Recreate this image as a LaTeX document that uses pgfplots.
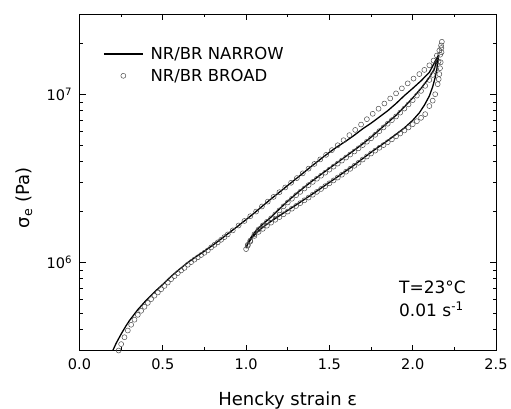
\documentclass[border=0pt]{standalone}
\usepackage{fontspec}
\setmainfont{DejaVu Sans}
\usepackage{pgfplots}
\pgfplotsset{compat=1.18}
\begin{document}
\begin{tikzpicture}
\useasboundingbox (0,0) rectangle (511pt,408pt);
\begin{axis}[
  at={(79.5pt,57.5pt)}, anchor=south west,
  scale only axis, width=416.5pt, height=336.5pt,
  xmin=0, xmax=2.5, ymin=3e5, ymax=3e7, ymode=log,
  xtick={0,0.5,1,1.5,2,2.5}, xticklabels={0.0,0.5,1.0,1.5,2.0,2.5},
  minor xtick={0.25,0.75,1.25,1.75,2.25},
  ytick={1e6,1e7}, yticklabels={10\textsuperscript{6},10\textsuperscript{7}},
  minor ytick={3e5,4e5,5e5,6e5,7e5,8e5,9e5,2e6,3e6,4e6,5e6,6e6,7e6,8e6,9e6,2e7,3e7},
  tick align=inside, major tick length=6pt, minor tick length=3.5pt,
  tick style={black, line width=0.8pt},
  axis line style={line width=0.9pt},
  ticklabel style={font=\fontsize{14.5}{17}\selectfont},
  xticklabel style={yshift=-5pt},
  yticklabel style={xshift=-4pt},
  every axis x label/.style={at={(axis description cs:0.5,-0.162)}, anchor=base},
  every axis y label/.style={at={(axis description cs:-0.133,0.453)}, rotate=90, anchor=center},
  label style={font=\fontsize{18}{21}\selectfont},
  xlabel={Hencky strain ε},
  ylabel={σ\textsubscript{e} (Pa)},
  legend style={at={(axis description cs:0,1)}, anchor=north west, xshift=20.5pt, yshift=-29pt,
    draw=none, fill=none, font=\fontsize{16.5}{19}\selectfont, row sep=4pt,
    /tikz/every odd column/.append style={column sep=5pt}},
  legend cell align=left,
  legend image code/.code={\draw[mark repeat=2,mark phase=2,#1] plot coordinates {(0pt,0pt)(19.5pt,0pt)(39pt,0pt)};},
]
% NR/BR NARROW: loading, unloading, reloading
\addplot[black, line width=1.3pt, line join=round] coordinates {
(0.20,3.000e5)(0.22,3.311e5)(0.25,3.758e5)(0.28,4.217e5)(0.30,4.519e5)(0.35,5.248e5)
(0.40,5.957e5)(0.45,6.683e5)(0.50,7.413e5)(0.55,8.279e5)(0.60,9.120e5)(0.65,1.000e6)
(0.70,1.084e6)(0.75,1.169e6)(0.80,1.268e6)(0.85,1.380e6)(0.90,1.507e6)(0.95,1.644e6)
(1.00,1.799e6)(1.05,1.972e6)(1.10,2.173e6)(1.15,2.388e6)(1.20,2.618e6)(1.25,2.871e6)
(1.30,3.148e6)(1.35,3.451e6)(1.40,3.784e6)(1.45,4.140e6)(1.50,4.519e6)(1.55,4.898e6)
(1.60,5.272e6)(1.65,5.715e6)(1.70,6.237e6)(1.75,6.730e6)(1.80,7.328e6)(1.85,7.980e6)
(1.90,8.810e6)(1.95,9.817e6)(2.00,1.084e7)(2.05,1.202e7)(2.10,1.349e7)(2.15,1.679e7)
(2.155,1.698e7)(2.152,1.585e7)(2.145,1.413e7)(2.135,1.259e7)(2.12,1.109e7)(2.10,9.772e6)
(2.07,8.610e6)(2.04,7.762e6)(2.00,6.998e6)(1.95,6.310e6)(1.90,5.781e6)(1.85,5.309e6)
(1.80,4.898e6)(1.75,4.519e6)(1.70,4.150e6)(1.65,3.802e6)(1.60,3.508e6)(1.55,3.236e6)
(1.50,2.992e6)(1.45,2.767e6)(1.40,2.559e6)(1.35,2.371e6)(1.30,2.198e6)(1.25,2.042e6)
(1.20,1.897e6)(1.15,1.758e6)(1.10,1.622e6)(1.06,1.496e6)(1.03,1.380e6)(1.01,1.288e6)
(1.00,1.222e6)
(1.01,1.303e6)(1.03,1.413e6)(1.06,1.549e6)(1.10,1.690e6)(1.15,1.862e6)(1.20,2.080e6)
(1.25,2.317e6)(1.30,2.559e6)(1.35,2.805e6)(1.40,3.069e6)(1.45,3.342e6)(1.50,3.631e6)
(1.55,3.944e6)(1.60,4.286e6)(1.65,4.656e6)(1.70,5.070e6)(1.75,5.559e6)(1.80,6.138e6)
(1.85,6.792e6)(1.90,7.499e6)(1.95,8.414e6)(2.00,9.506e6)(2.05,1.084e7)(2.10,1.259e7)
(2.13,1.413e7)(2.15,1.660e7)
};
\addlegendentry{NR/BR NARROW}
% NR/BR BROAD
\addplot[only marks, mark=o, mark size=2.5pt, mark options={draw=black!70, line width=0.5pt}] coordinates {
(0.235,3.000e5)(0.25,3.274e5)(0.27,3.597e5)(0.29,3.944e5)(0.31,4.266e5)(0.33,4.571e5)
(0.35,4.887e5)(0.37,5.164e5)(0.39,5.457e5)(0.41,5.754e5)(0.43,6.054e5)(0.45,6.353e5)
(0.47,6.637e5)(0.49,6.934e5)(0.51,7.261e5)(0.53,7.603e5)(0.55,7.962e5)(0.57,8.298e5)
(0.59,8.649e5)(0.61,8.975e5)(0.63,9.290e5)(0.65,9.700e5)(0.67,1.005e6)(0.69,1.040e6)
(0.71,1.074e6)(0.73,1.108e6)(0.75,1.143e6)(0.77,1.180e6)(0.79,1.230e6)(0.81,1.274e6)
(0.83,1.318e6)(0.85,1.365e6)(0.87,1.416e6)(0.89,1.469e6)(0.92,1.552e6)(0.955,1.660e6)
(0.99,1.766e6)(1.025,1.884e6)(1.06,2.009e6)(1.095,2.153e6)(1.13,2.301e6)(1.165,2.455e6)
(1.20,2.618e6)(1.235,2.793e6)(1.27,2.979e6)(1.305,3.177e6)(1.34,3.388e6)(1.375,3.614e6)
(1.41,3.855e6)(1.445,4.102e6)(1.48,4.365e6)(1.515,4.656e6)(1.55,4.977e6)(1.585,5.333e6)
(1.62,5.715e6)(1.655,6.138e6)(1.69,6.607e6)(1.725,7.112e6)(1.76,7.656e6)(1.795,8.204e6)
(1.83,8.810e6)(1.865,9.441e6)(1.90,1.012e7)(1.935,1.084e7)(1.97,1.161e7)(2.005,1.239e7)
(2.04,1.318e7)(2.07,1.396e7)(2.10,1.486e7)(2.125,1.585e7)(2.145,1.698e7)(2.16,1.820e7)
(2.17,1.950e7)(2.175,2.051e7)
(2.173,1.778e7)(2.168,1.549e7)(2.164,1.429e7)(2.16,1.318e7)(2.156,1.230e7)(2.15,1.148e7)
(2.135,1.000e7)(2.12,9.162e6)(2.10,8.511e6)(2.075,7.621e6)(2.05,7.244e6)(2.025,6.918e6)
(2.00,6.637e6)(1.975,6.354e6)(1.95,6.096e6)(1.925,5.847e6)(1.90,5.623e6)(1.875,5.395e6)
(1.85,5.188e6)(1.825,4.989e6)(1.80,4.808e6)(1.775,4.624e6)(1.75,4.446e6)(1.725,4.266e6)
(1.70,4.093e6)(1.675,3.917e6)(1.65,3.758e6)(1.625,3.606e6)(1.60,3.467e6)(1.575,3.326e6)
(1.55,3.199e6)(1.525,3.076e6)(1.50,2.958e6)(1.475,2.844e6)(1.45,2.736e6)(1.425,2.630e6)
(1.40,2.529e6)(1.375,2.432e6)(1.35,2.344e6)(1.325,2.254e6)(1.30,2.168e6)(1.275,2.089e6)
(1.25,2.009e6)(1.225,1.936e6)(1.20,1.862e6)(1.175,1.795e6)(1.15,1.726e6)(1.125,1.656e6)
(1.10,1.585e6)(1.075,1.521e6)(1.05,1.439e6)(1.025,1.333e6)(1.01,1.259e6)(1.00,1.202e6)
(1.01,1.274e6)(1.025,1.349e6)(1.05,1.472e6)(1.075,1.574e6)(1.10,1.660e6)(1.125,1.746e6)
(1.15,1.832e6)(1.175,1.932e6)(1.20,2.042e6)(1.225,2.158e6)(1.25,2.275e6)(1.275,2.393e6)
(1.30,2.512e6)(1.325,2.630e6)(1.35,2.754e6)(1.375,2.884e6)(1.40,3.013e6)(1.425,3.148e6)
(1.45,3.281e6)(1.475,3.420e6)(1.50,3.565e6)(1.525,3.715e6)(1.55,3.873e6)(1.575,4.036e6)
(1.60,4.207e6)(1.625,4.385e6)(1.65,4.571e6)(1.675,4.775e6)(1.70,4.989e6)(1.725,5.224e6)
(1.75,5.470e6)(1.775,5.741e6)(1.80,6.039e6)(1.825,6.353e6)(1.85,6.684e6)(1.875,7.014e6)
(1.90,7.379e6)(1.925,7.780e6)(1.95,8.222e6)(1.975,8.710e6)(2.00,9.226e6)(2.025,9.817e6)
(2.05,1.047e7)(2.075,1.122e7)(2.10,1.216e7)(2.12,1.303e7)(2.14,1.413e7)(2.155,1.567e7)
(2.165,1.718e7)(2.172,1.884e7)
};
\addlegendentry{NR/BR BROAD}
\node[anchor=base west, font=\fontsize{17}{20}\selectfont, inner sep=0pt] at (axis description cs:0.767,0.170) {T=23°C};
\node[anchor=base west, font=\fontsize{17}{20}\selectfont, inner sep=0pt] at (axis description cs:0.767,0.100) {0.01 s\textsuperscript{-1}};
\end{axis}
\end{tikzpicture}
\end{document}
